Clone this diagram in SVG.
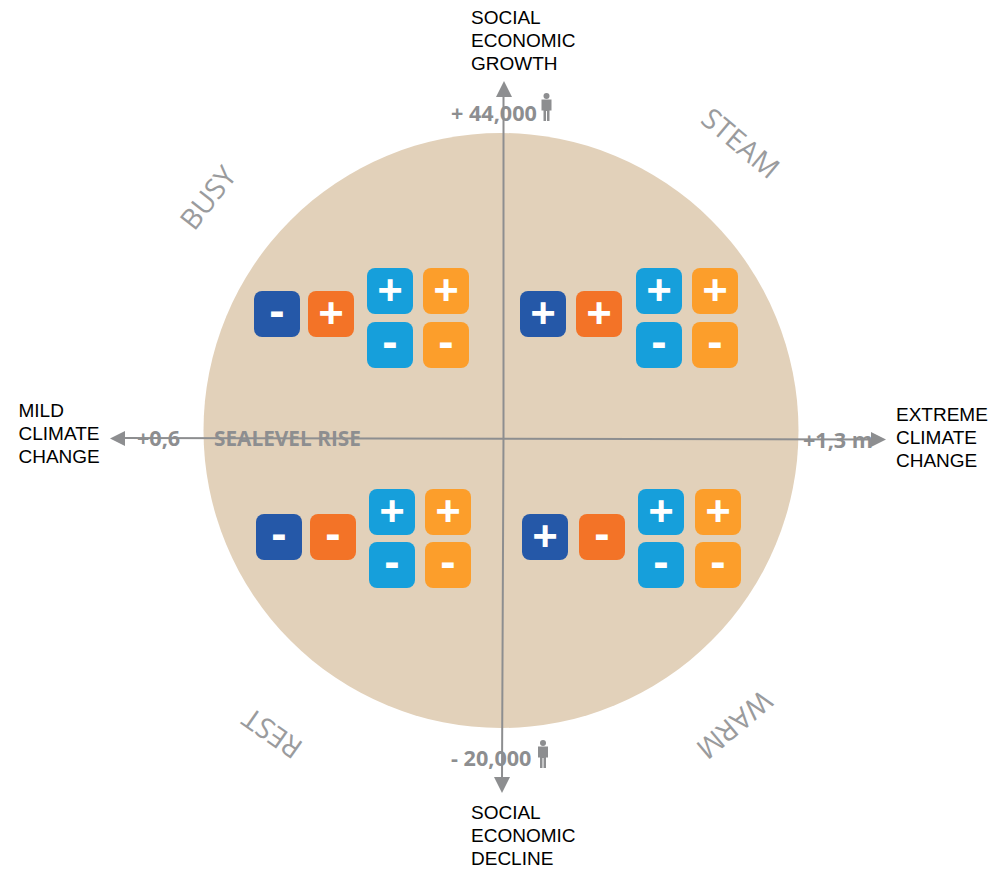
<svg xmlns="http://www.w3.org/2000/svg" width="999" height="869" viewBox="0 0 999 869">
<style>
.axis{font-family:"Liberation Sans",Arial,sans-serif;font-size:19px;fill:#000}
.val{font-family:"Open Sans",sans-serif;font-weight:700;font-size:21.6px;fill:#8d8e90}
.sea{font-family:"Open Sans",sans-serif;font-weight:700;font-size:20.8px;fill:#8d8e90}
.quad{font-family:"Open Sans",sans-serif;font-weight:400;font-size:28.500px;fill:#9a9b9d;text-anchor:middle}
.line{stroke:#8d8e90;stroke-width:2;fill:none}
.head{fill:#8d8e90}
.p{font-family:"Open Sans",sans-serif;font-weight:700;fill:#fff;text-anchor:middle;font-size:45px}
.m{font-family:"Liberation Sans",sans-serif;font-weight:700;fill:#fff;text-anchor:middle;font-size:46px}
.navy{fill:#2558a8}.org{fill:#f37327}.blu{fill:#169fdb}.amb{fill:#fc9e2b}
</style>
<defs>
<g id="man"><circle cx="0" cy="-11" r="3"/><path d="M-5-7.500H5V3.500H3V14H0.500V4H-0.500V14H-3V3.500H-5Z"/></g>
</defs>
<rect width="999" height="869" fill="#fff"/>
<circle id="disc" cx="501" cy="430.500" r="297.500" fill="#e2d1ba"/>
<g id="labels">
<text class="val" x="451" y="120.500">+ 44,000</text>
<text class="val" x="451" y="765.500">- 20,000</text>
<text class="val" x="137" y="446">+0,6</text>
<text class="sea" x="214" y="446">SEALEVEL RISE</text>
<text class="val" x="803" y="447.500">+1,3 m</text>
<use href="#man" x="546.500" y="107" class="head"/>
<use href="#man" x="543" y="754" class="head"/>
</g>
<g id="connectors">
<path class="line" d="M503.500 90V435L502 780"/>
<path class="line" d="M120 438L870 439.500"/>
<path class="head" d="M504 81L496 97H512Z"/>
<path class="head" d="M502 793L494 777H510Z"/>
<path class="head" d="M110 438.500L125 431V446Z"/>
<path class="head" d="M886 439.500L871 432V447Z"/>
</g>
<g id="axis-top"><text class="axis" x="471" y="24">SOCIAL</text><text class="axis" x="471" y="47">ECONOMIC</text><text class="axis" x="471" y="69.500">GROWTH</text></g>
<g id="axis-bottom"><text class="axis" x="471" y="819">SOCIAL</text><text class="axis" x="471" y="842">ECONOMIC</text><text class="axis" x="471" y="865">DECLINE</text></g>
<g id="axis-left"><text class="axis" x="18.500" y="417">MILD</text><text class="axis" x="18.500" y="440">CLIMATE</text><text class="axis" x="18.500" y="462.500">CHANGE</text></g>
<g id="axis-right"><text class="axis" x="896" y="421">EXTREME</text><text class="axis" x="896" y="444">CLIMATE</text><text class="axis" x="896" y="466.500">CHANGE</text></g>
<g id="quad-busy"><text class="quad" transform="translate(216 204) rotate(-52)">BUSY</text></g>
<g id="quad-steam"><text class="quad" transform="translate(734 151) rotate(40)">STEAM</text></g>
<g id="quad-rest"><text class="quad" transform="translate(278 725) rotate(215)">REST</text></g>
<g id="quad-warm"><text class="quad" transform="translate(728 717) rotate(140)">WARM</text></g>
<g id="busy-icons">
<rect class="navy" x="254" y="291" width="46" height="46" rx="8"/><text class="m" x="277" y="325.500">-</text>
<rect class="org" x="308" y="291" width="46" height="46" rx="8"/><text class="p" x="331" y="328.500">+</text>
<rect class="blu" x="367" y="268" width="46" height="46" rx="8"/><text class="p" x="390" y="305.500">+</text>
<rect class="amb" x="423" y="268" width="46" height="46" rx="8"/><text class="p" x="446" y="305.500">+</text>
<rect class="blu" x="367" y="322" width="46" height="46" rx="8"/><text class="m" x="390" y="357">-</text>
<rect class="amb" x="423" y="322" width="46" height="46" rx="8"/><text class="m" x="446" y="357">-</text>
</g>
<g id="steam-icons">
<rect class="navy" x="520" y="291" width="46" height="46" rx="8"/><text class="p" x="543" y="328.500">+</text>
<rect class="org" x="576" y="291" width="46" height="46" rx="8"/><text class="p" x="599" y="328.500">+</text>
<rect class="blu" x="636" y="268" width="46" height="46" rx="8"/><text class="p" x="659" y="305.500">+</text>
<rect class="amb" x="692" y="268" width="46" height="46" rx="8"/><text class="p" x="715" y="305.500">+</text>
<rect class="blu" x="636" y="322" width="46" height="46" rx="8"/><text class="m" x="659" y="357">-</text>
<rect class="amb" x="692" y="322" width="46" height="46" rx="8"/><text class="m" x="715" y="357">-</text>
</g>
<g id="rest-icons">
<rect class="navy" x="256" y="514" width="46" height="46" rx="8"/><text class="m" x="279" y="549">-</text>
<rect class="org" x="310" y="514" width="46" height="46" rx="8"/><text class="m" x="333" y="549">-</text>
<rect class="blu" x="369" y="489" width="46" height="46" rx="8"/><text class="p" x="392" y="526.500">+</text>
<rect class="amb" x="425" y="489" width="46" height="46" rx="8"/><text class="p" x="448" y="526.500">+</text>
<rect class="blu" x="369" y="542" width="46" height="46" rx="8"/><text class="m" x="392" y="577">-</text>
<rect class="amb" x="425" y="542" width="46" height="46" rx="8"/><text class="m" x="448" y="577">-</text>
</g>
<g id="warm-icons">
<rect class="navy" x="522" y="514" width="46" height="46" rx="8"/><text class="p" x="545" y="551.500">+</text>
<rect class="org" x="579" y="514" width="46" height="46" rx="8"/><text class="m" x="602" y="549">-</text>
<rect class="blu" x="638" y="489" width="46" height="46" rx="8"/><text class="p" x="661" y="526.500">+</text>
<rect class="amb" x="695" y="489" width="46" height="46" rx="8"/><text class="p" x="718" y="526.500">+</text>
<rect class="blu" x="638" y="542" width="46" height="46" rx="8"/><text class="m" x="661" y="577">-</text>
<rect class="amb" x="695" y="542" width="46" height="46" rx="8"/><text class="m" x="718" y="577">-</text>
</g>
</svg>
